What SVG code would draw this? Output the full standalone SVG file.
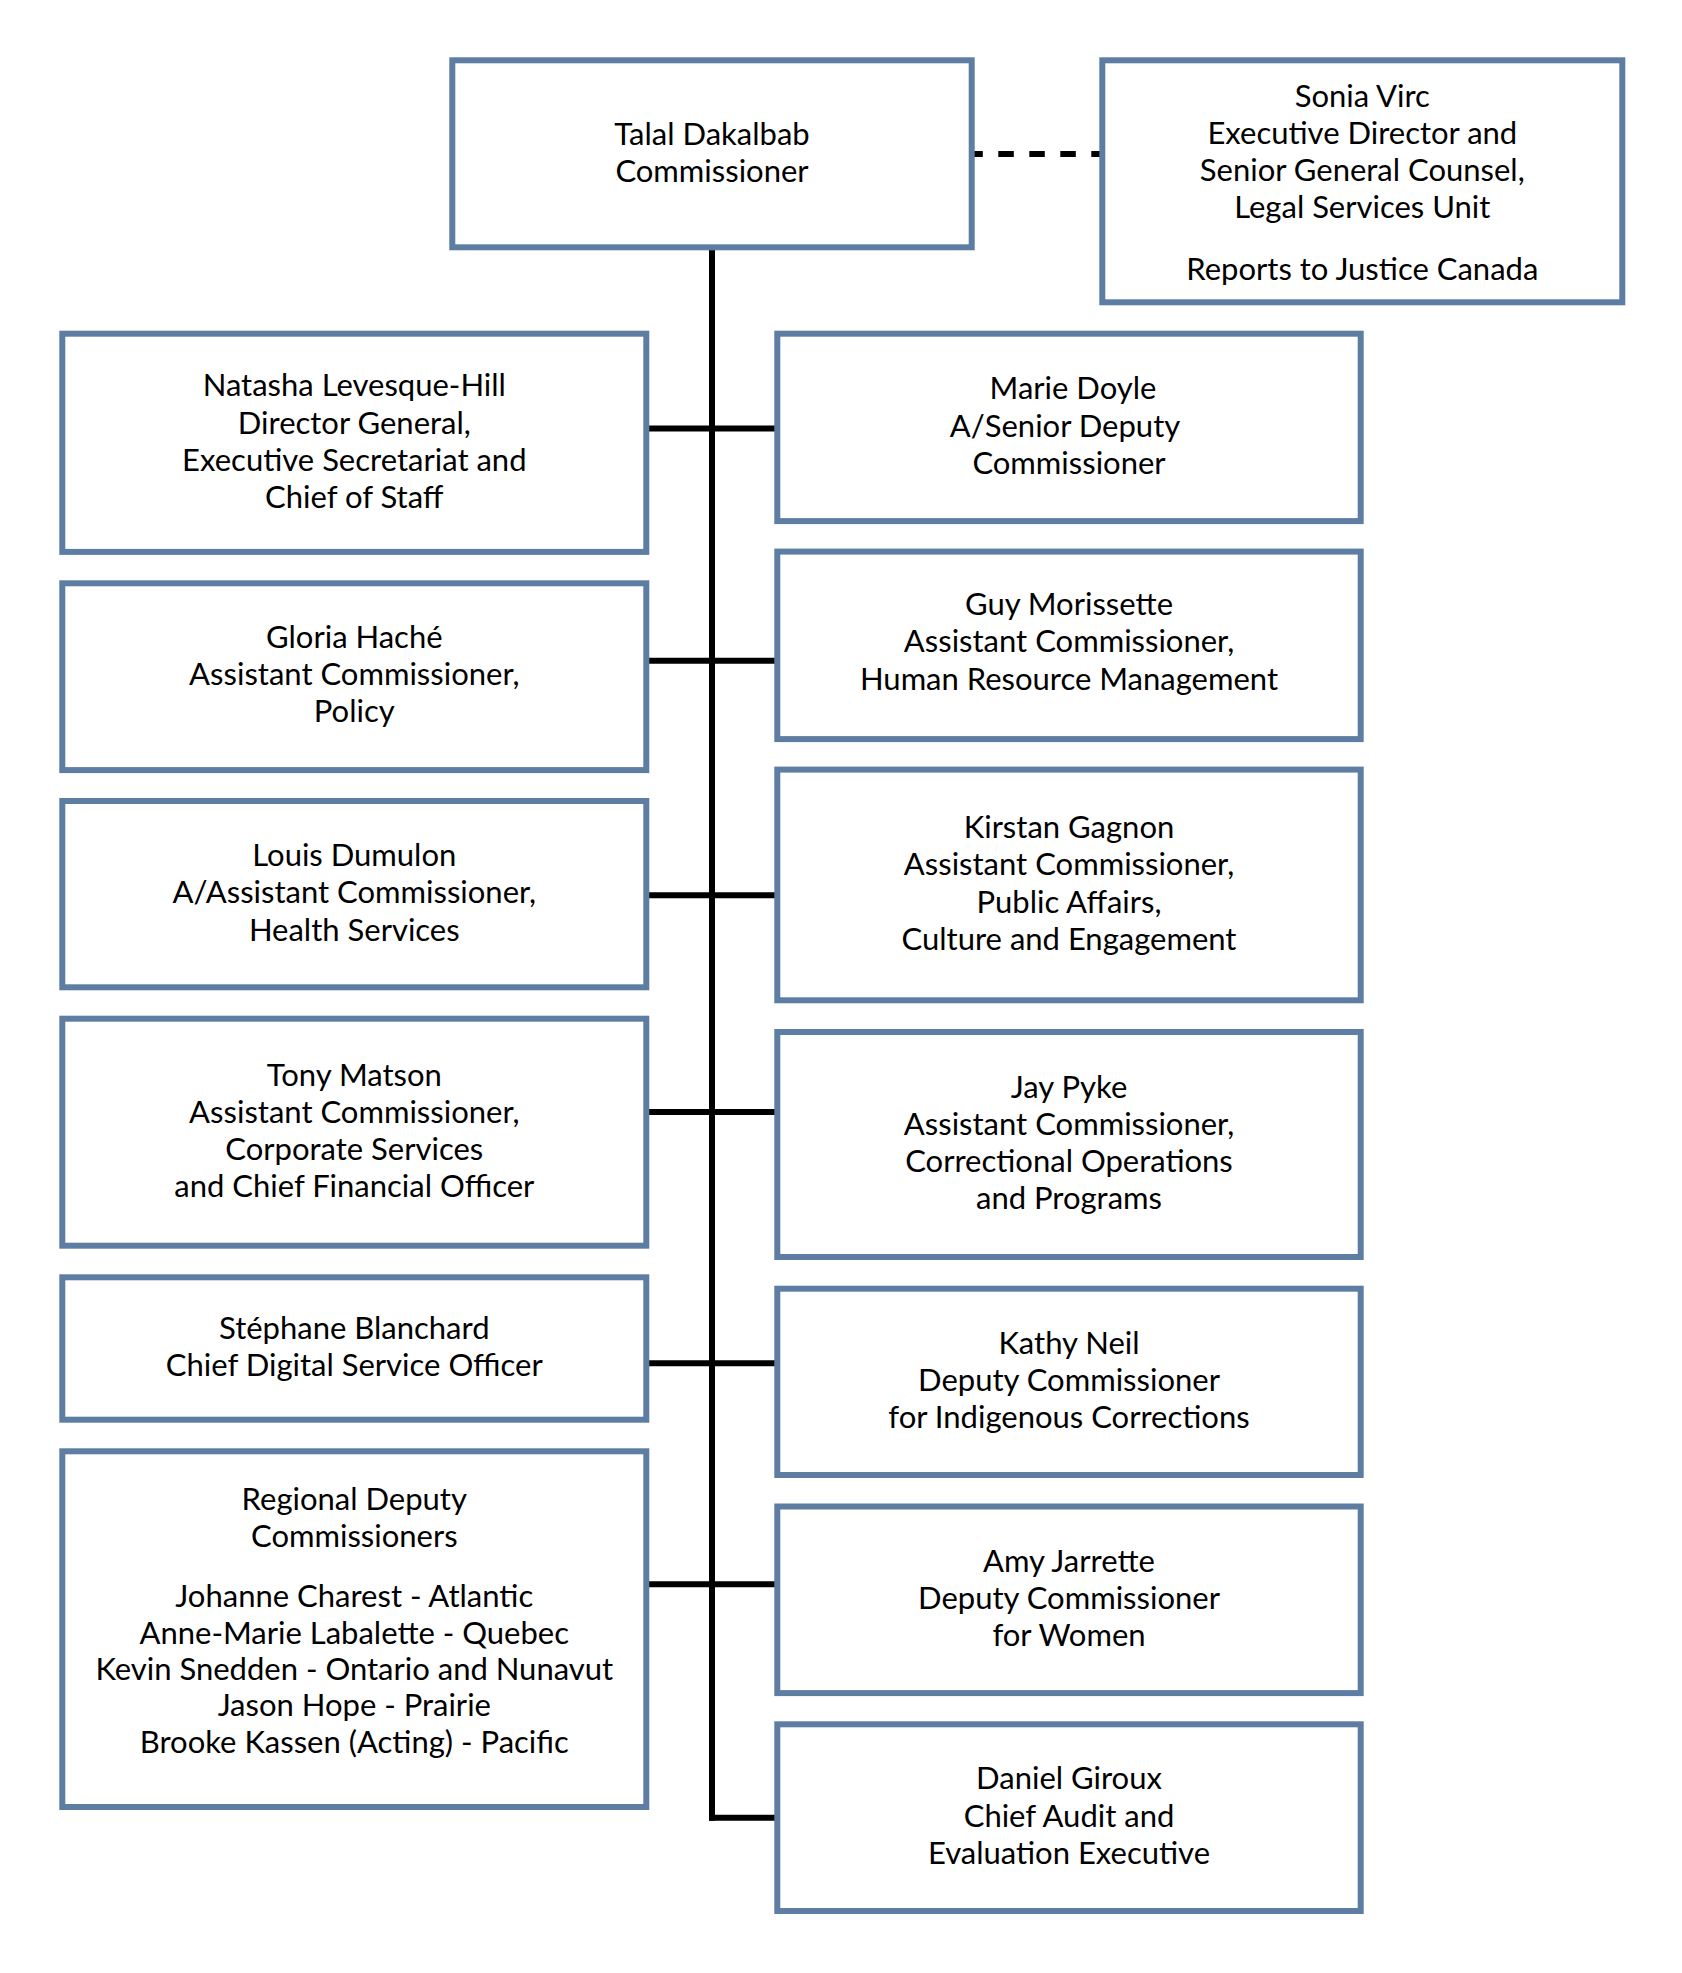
<svg xmlns="http://www.w3.org/2000/svg" width="1682" height="1973" viewBox="0 0 1682 1973">
<style>
.box{fill:#ffffff;stroke:#5e7da2;stroke-width:6}
.t{font-family:Lato,"Open Sans","Liberation Sans",sans-serif;font-size:31px;fill:#000;text-anchor:middle}
.ln{stroke:#000;fill:none;stroke-width:6}
</style>
<rect width="1682" height="1973" fill="#ffffff"/>
<g id="connectors">
<line class="ln" x1="712" y1="247" x2="712" y2="1820.7"/>
<line class="ln" x1="967.3" y1="154" x2="1102" y2="154" stroke-dasharray="15.5 15.5"/>
<line class="ln" x1="646" y1="428.4" x2="777" y2="428.4"/>
<line class="ln" x1="646" y1="660.8" x2="777" y2="660.8"/>
<line class="ln" x1="646" y1="895.3" x2="777" y2="895.3"/>
<line class="ln" x1="646" y1="1112" x2="777" y2="1112"/>
<line class="ln" x1="646" y1="1363.3" x2="777" y2="1363.3"/>
<line class="ln" x1="646" y1="1584.3" x2="777" y2="1584.3"/>
<line class="ln" x1="709" y1="1817.7" x2="777" y2="1817.7"/>
</g>
<g id="commissioner">
<rect class="box" x="452.3" y="60.3" width="519.4" height="187"/>
<text class="t" x="712" y="145">Talal Dakalbab</text>
<text class="t" x="712" y="181.5">Commissioner</text>
</g>
<g id="legal">
<rect class="box" x="1102.3" y="60.3" width="520" height="242"/>
<text class="t" x="1362.3" y="106.7">Sonia Virc</text>
<text class="t" x="1362.3" y="143.9">Executive Director and</text>
<text class="t" x="1362.3" y="181.1">Senior General Counsel,</text>
<text class="t" x="1362.3" y="218.3">Legal Services Unit</text>
<text class="t" x="1362.3" y="280">Reports to Justice Canada</text>
</g>
<g id="levesque-hill">
<rect class="box" x="62.3" y="333.7" width="584" height="218.2"/>
<text class="t" x="354.3" y="396.3">Natasha Levesque-Hill</text>
<text class="t" x="354.3" y="433.7">Director General,</text>
<text class="t" x="354.3" y="470.8">Executive Secretariat and</text>
<text class="t" x="354.3" y="507.8">Chief of Staff</text>
</g>
<g id="hache">
<rect class="box" x="62.3" y="583.3" width="584" height="186.8"/>
<text class="t" x="354.3" y="647.8">Gloria Haché</text>
<text class="t" x="354.3" y="685">Assistant Commissioner,</text>
<text class="t" x="354.3" y="722.3">Policy</text>
</g>
<g id="dumulon">
<rect class="box" x="62.3" y="801" width="584" height="186.3"/>
<text class="t" x="354.3" y="866">Louis Dumulon</text>
<text class="t" x="354.3" y="903.3">A/Assistant Commissioner,</text>
<text class="t" x="354.3" y="940.5">Health Services</text>
</g>
<g id="matson">
<rect class="box" x="62.3" y="1018.7" width="584" height="227"/>
<text class="t" x="354.3" y="1085.7">Tony Matson</text>
<text class="t" x="354.3" y="1123.3">Assistant Commissioner,</text>
<text class="t" x="354.3" y="1159.8">Corporate Services</text>
<text class="t" x="354.3" y="1196.8">and Chief Financial Officer</text>
</g>
<g id="blanchard">
<rect class="box" x="62.3" y="1277.3" width="584" height="142.4"/>
<text class="t" x="354.3" y="1339">Stéphane Blanchard</text>
<text class="t" x="354.3" y="1375.8">Chief Digital Service Officer</text>
</g>
<g id="regional">
<rect class="box" x="62.3" y="1451.3" width="584" height="355.7"/>
<text class="t" x="354.3" y="1510.4">Regional Deputy</text>
<text class="t" x="354.3" y="1546.5">Commissioners</text>
<text class="t" x="354.3" y="1607.3">Johanne Charest - Atlantic</text>
<text class="t" x="354.3" y="1643.5">Anne-Marie Labalette - Quebec</text>
<text class="t" x="354.3" y="1680">Kevin Snedden - Ontario and Nunavut</text>
<text class="t" x="354.3" y="1716.3">Jason Hope - Prairie</text>
<text class="t" x="354.3" y="1752.5">Brooke Kassen (Acting) - Pacific</text>
</g>
<g id="doyle">
<rect class="box" x="777.3" y="333.7" width="583.4" height="187.4"/>
<text class="t" x="1073" y="398.8">Marie Doyle</text>
<text class="t" x="1065" y="436.8">A/Senior Deputy</text>
<text class="t" x="1069" y="474">Commissioner</text>
</g>
<g id="morissette">
<rect class="box" x="777.3" y="551.6" width="583.4" height="187.5"/>
<text class="t" x="1069" y="614.8">Guy Morissette</text>
<text class="t" x="1069" y="651.8">Assistant Commissioner,</text>
<text class="t" x="1069" y="689.5">Human Resource Management</text>
</g>
<g id="gagnon">
<rect class="box" x="777.3" y="769.6" width="583.4" height="230.7"/>
<text class="t" x="1069" y="838.2">Kirstan Gagnon</text>
<text class="t" x="1069" y="875.4">Assistant Commissioner,</text>
<text class="t" x="1069" y="912.6">Public Affairs,</text>
<text class="t" x="1069" y="949.6">Culture and Engagement</text>
</g>
<g id="pyke">
<rect class="box" x="777.3" y="1032" width="583.4" height="225"/>
<text class="t" x="1069" y="1097.5">Jay Pyke</text>
<text class="t" x="1069" y="1134.7">Assistant Commissioner,</text>
<text class="t" x="1069" y="1172">Correctional Operations</text>
<text class="t" x="1069" y="1209.2">and Programs</text>
</g>
<g id="neil">
<rect class="box" x="777.3" y="1288.7" width="583.4" height="186.3"/>
<text class="t" x="1069" y="1353.8">Kathy Neil</text>
<text class="t" x="1069" y="1390.9">Deputy Commissioner</text>
<text class="t" x="1069" y="1428">for Indigenous Corrections</text>
</g>
<g id="jarrette">
<rect class="box" x="777.3" y="1506.5" width="583.4" height="186.6"/>
<text class="t" x="1069" y="1571.6">Amy Jarrette</text>
<text class="t" x="1069" y="1609">Deputy Commissioner</text>
<text class="t" x="1069" y="1645.7">for Women</text>
</g>
<g id="giroux">
<rect class="box" x="777.3" y="1724.3" width="583.4" height="186.7"/>
<text class="t" x="1069" y="1789">Daniel Giroux</text>
<text class="t" x="1069" y="1826.5">Chief Audit and</text>
<text class="t" x="1069" y="1863.5">Evaluation Executive</text>
</g>
</svg>
